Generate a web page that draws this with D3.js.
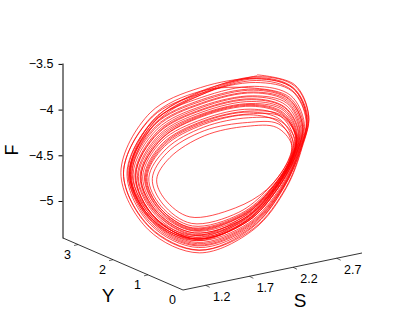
<!DOCTYPE html>
<html lang="en">
<head>
    <meta charset="utf-8">
    <title>S Y F</title>
    <style type="text/css">
        body { margin: 0; background: #fff; }
        svg { display: block; }
        text { font-family: "Liberation Sans", Arial, sans-serif; fill: #000; }
        .axis path, .axis line { stroke: #000; }
        .orbit { fill: none; stroke: #f00; stroke-width: 0.7; }
    </style>
</head>
<body>
<svg class="chart" width="400" height="327"></svg>
<script src="https://d3js.org/d3.v7.min.js"></script>
<script>
    // tick labels
    var sTicks = [1.2, 1.7, 2.2, 2.7],
        yTicks = [0, 1, 2, 3],
        fTicks = [-3.5, -4, -4.5, -5];

    // Y read at each of the 11 points of a turn
    var turnY = [1.6, 1.2, 1.0, 1.0, 1.0, 1.1, 1.2, 1.6, 2.2, 2.4, 2.0];

    // one row per turn of the orbit
    var orbitS = [
        [2.43,2.70,2.78,2.70,2.52,2.19,1.61,1.20,1.14,1.55,1.95],
        [2.41,2.67,2.75,2.67,2.48,2.15,1.59,1.23,1.21,1.58,1.95],
        [2.39,2.63,2.71,2.64,2.43,2.12,1.57,1.26,1.28,1.62,1.96],
        [2.37,2.59,2.665,2.61,2.39,2.08,1.55,1.29,1.34,1.66,1.97],
        [2.36,2.555,2.63,2.58,2.35,2.05,1.53,1.32,1.41,1.69,1.98],
        [2.34,2.52,2.585,2.54,2.30,1.98,1.50,1.375,1.52,1.75,1.99],
        [2.31,2.49,2.58,2.56,2.35,2.07,1.56,1.26,1.24,1.58,1.95],
        [2.42,2.68,2.76,2.69,2.49,2.17,1.60,1.21,1.18,1.56,1.95],
        [2.40,2.65,2.73,2.66,2.46,2.14,1.58,1.24,1.23,1.60,1.96],
        [2.39,2.61,2.69,2.63,2.42,2.11,1.56,1.27,1.30,1.63,1.97],
        [2.37,2.58,2.65,2.60,2.38,2.07,1.55,1.30,1.36,1.66,1.97],
        [2.35,2.54,2.615,2.57,2.34,2.04,1.53,1.33,1.43,1.71,1.98],
        [2.33,2.52,2.62,2.59,2.38,2.09,1.57,1.24,1.21,1.56,1.945],
        [2.43,2.70,2.78,2.705,2.525,2.195,1.61,1.185,1.11,1.525,1.94],
        [2.42,2.68,2.76,2.67,2.47,2.145,1.585,1.235,1.22,1.59,1.955],
        [2.39,2.62,2.70,2.64,2.43,2.12,1.57,1.26,1.27,1.61,1.96],
        [2.38,2.60,2.675,2.62,2.40,2.09,1.56,1.28,1.33,1.65,1.97],
        [2.36,2.565,2.64,2.59,2.36,2.06,1.54,1.31,1.39,1.68,1.98],
        [2.34,2.53,2.60,2.55,2.31,2.02,1.52,1.35,1.47,1.72,1.985],
        [2.32,2.51,2.60,2.57,2.37,2.08,1.565,1.25,1.22,1.57,1.95],
        [2.42,2.68,2.77,2.69,2.495,2.17,1.60,1.20,1.14,1.55,1.945],
        [2.40,2.64,2.72,2.65,2.45,2.13,1.58,1.25,1.25,1.605,1.96],
        [2.38,2.61,2.68,2.62,2.41,2.10,1.56,1.28,1.31,1.64,1.97],
        [2.36,2.57,2.645,2.59,2.37,2.06,1.54,1.31,1.38,1.67,1.975],
        [2.35,2.55,2.64,2.60,2.40,2.105,1.57,1.24,1.21,1.57,1.95],
        [2.42,2.67,2.755,2.68,2.48,2.16,1.59,1.22,1.20,1.58,1.95],
        [2.40,2.63,2.71,2.64,2.43,2.12,1.57,1.26,1.28,1.62,1.96],
        [2.37,2.585,2.66,2.61,2.39,2.08,1.55,1.29,1.34,1.65,1.97],
        [2.36,2.56,2.63,2.58,2.35,2.05,1.54,1.32,1.40,1.69,1.98],
        [2.34,2.54,2.635,2.60,2.40,2.11,1.575,1.235,1.19,1.555,1.945],
        [2.43]
    ];
    var orbitF = [
        [-3.61,-3.705,-4.025,-4.36,-4.76,-5.16,-5.30,-5.03,-4.53,-4.03,-3.785],
        [-3.69,-3.77,-4.07,-4.38,-4.76,-5.12,-5.24,-4.99,-4.56,-4.12,-3.87],
        [-3.77,-3.85,-4.125,-4.41,-4.75,-5.07,-5.17,-4.94,-4.58,-4.21,-3.96],
        [-3.86,-3.93,-4.18,-4.43,-4.75,-5.03,-5.10,-4.89,-4.61,-4.29,-4.04],
        [-3.94,-4.00,-4.23,-4.455,-4.745,-4.98,-5.04,-4.85,-4.63,-4.38,-4.13],
        [-4.03,-4.08,-4.29,-4.48,-4.74,-4.895,-4.915,-4.765,-4.675,-4.515,-4.255],
        [-4.15,-4.13,-4.29,-4.47,-4.745,-5.01,-5.13,-4.94,-4.57,-4.11,-3.80],
        [-3.65,-3.74,-4.05,-4.37,-4.76,-5.14,-5.27,-5.01,-4.54,-4.08,-3.83],
        [-3.73,-3.81,-4.10,-4.39,-4.76,-5.10,-5.21,-4.97,-4.57,-4.15,-3.90],
        [-3.80,-3.87,-4.145,-4.415,-4.75,-5.06,-5.15,-4.92,-4.59,-4.24,-3.99],
        [-3.89,-3.95,-4.20,-4.44,-4.75,-5.015,-5.08,-4.88,-4.615,-4.315,-4.07],
        [-3.97,-4.02,-4.25,-4.46,-4.74,-4.97,-5.02,-4.83,-4.64,-4.41,-4.16],
        [-4.06,-4.06,-4.245,-4.45,-4.75,-5.04,-5.17,-4.965,-4.555,-4.07,-3.77],
        [-3.63,-3.72,-4.03,-4.36,-4.765,-5.17,-5.33,-5.06,-4.52,-3.98,-3.72],
        [-3.65,-3.74,-4.05,-4.39,-4.76,-5.11,-5.225,-4.98,-4.56,-4.14,-3.89],
        [-3.79,-3.86,-4.13,-4.41,-4.75,-5.07,-5.17,-4.945,-4.58,-4.20,-3.94],
        [-3.84,-3.91,-4.17,-4.425,-4.75,-5.04,-5.12,-4.90,-4.60,-4.27,-4.02],
        [-3.92,-3.98,-4.22,-4.45,-4.75,-4.995,-5.06,-4.86,-4.625,-4.35,-4.10],
        [-4.00,-4.05,-4.27,-4.47,-4.74,-4.95,-4.99,-4.81,-4.655,-4.455,-4.20],
        [-4.11,-4.095,-4.27,-4.46,-4.75,-5.03,-5.15,-4.95,-4.56,-4.09,-3.785],
        [-3.64,-3.73,-4.045,-4.37,-4.76,-5.15,-5.30,-5.04,-4.53,-4.02,-3.76],
        [-3.75,-3.83,-4.11,-4.40,-4.755,-5.09,-5.19,-4.96,-4.57,-4.175,-3.925],
        [-3.83,-3.89,-4.16,-4.42,-4.75,-5.05,-5.13,-4.91,-4.60,-4.255,-4.01],
        [-3.91,-3.96,-4.21,-4.44,-4.75,-5.00,-5.07,-4.87,-4.62,-4.34,-4.09],
        [-3.99,-4.01,-4.215,-4.44,-4.75,-5.06,-5.175,-4.965,-4.56,-4.09,-3.80],
        [-3.67,-3.76,-4.06,-4.38,-4.76,-5.13,-5.25,-5.00,-4.55,-4.11,-3.855],
        [-3.76,-3.84,-4.12,-4.41,-4.75,-5.07,-5.17,-4.94,-4.58,-4.22,-3.97],
        [-3.87,-3.935,-4.185,-4.43,-4.75,-5.03,-5.10,-4.895,-4.61,-4.29,-4.03],
        [-3.93,-3.99,-4.225,-4.45,-4.745,-4.99,-5.05,-4.85,-4.63,-4.36,-4.115],
        [-4.02,-4.02,-4.22,-4.44,-4.75,-5.06,-5.19,-4.98,-4.55,-4.07,-3.76],
        [-3.62]
    ];

    var svg = d3.select('.chart'),
        corner = {x: 183, y: 290},
        floorY = 238;

    // the floor is an oblique plane, so S and Y each need a scale per screen direction
    var sX = d3.scaleLinear().domain([0.94, 2.99]).range([0, 179]),
        sY = d3.scaleLinear().domain([0.94, 2.99]).range([0, -37]),
        yX = d3.scaleLinear().domain([0, 3.43]).range([0, -120]),
        yY = d3.scaleLinear().domain([0, 3.43]).range([0, -52]),
        fY = d3.scaleLinear().domain([-5.405, -3.49]).range([floorY, 63]);

    function px(s, y) { return corner.x + sX(s) + yX(y); }
    function py(s, y, f) { return corner.y + sY(s) + yY(y) + fY(f) - floorY; }

    // flatten the turns into one long path
    var points = [];
    orbitS.forEach(function(row, i) {
        row.forEach(function(s, k) {
            points.push([px(s, turnY[k]), py(s, turnY[k], orbitF[i][k])]);
        });
    });

    svg.append('path')
        .datum(points)
        .attr('class', 'orbit')
        .attr('d', d3.line().curve(d3.curveCatmullRom.alpha(0.5)));

    // F axis
    svg.append('g')
        .attr('class', 'axis')
        .attr('transform', 'translate(62.5,0)')
        .call(d3.axisLeft(fY).tickValues(fTicks).tickSize(4).tickSizeOuter(0).tickPadding(5)
            .tickFormat(function(d) { return String(d).replace('-', '\u2212'); }))
        .call(function(g) {
            g.attr('font-family', null).attr('font-size', null);
            g.selectAll('text').style('font-size', '12.5px');
        });

    // Y axis, along the left edge of the floor
    var axisLine = svg.append('g').attr('class', 'axis');
    axisLine.append('line')
        .attr('x1', px(0.94, 0)).attr('y1', py(0.94, 0, -5.405))
        .attr('x2', px(0.94, 3.43)).attr('y2', py(0.94, 3.43, -5.405))
        .attr('stroke-width', 0.8);
    axisLine.selectAll('.ytick').data(yTicks.slice(1)).enter().append('line')
        .attr('x1', function(d) { return px(0.94, d); })
        .attr('y1', function(d) { return py(0.94, d, -5.405); })
        .attr('x2', function(d) { return px(0.94, d) - 4; })
        .attr('y2', function(d) { return py(0.94, d, -5.405) + 1; })
        .attr('stroke-width', 0.6);
    axisLine.selectAll('.ylabel').data(yTicks).enter().append('text')
        .attr('x', function(d) { return px(0.94, d) - 10.5; })
        .attr('y', function(d) { return py(0.94, d, -5.405) + 14; })
        .attr('text-anchor', 'middle')
        .style('font-size', '12.5px')
        .text(function(d) { return d; });

    // S axis, along the right edge of the floor
    axisLine.append('line')
        .attr('x1', px(0.94, 0)).attr('y1', py(0.94, 0, -5.405))
        .attr('x2', px(2.99, 0)).attr('y2', py(2.99, 0, -5.405))
        .attr('stroke-width', 0.8);
    axisLine.selectAll('.stick').data(sTicks).enter().append('line')
        .attr('x1', function(d) { return px(d, 0); })
        .attr('y1', function(d) { return py(d, 0, -5.405); })
        .attr('x2', function(d) { return px(d, 0) + 4; })
        .attr('y2', function(d) { return py(d, 0, -5.405) + 2; })
        .attr('stroke-width', 0.6);
    axisLine.selectAll('.slabel').data(sTicks).enter().append('text')
        .attr('x', function(d) { return px(d, 0) + 16; })
        .attr('y', function(d) { return py(d, 0, -5.405) + 15.5; })
        .attr('text-anchor', 'middle')
        .style('font-size', '12.5px')
        .text(function(d) { return d.toFixed(1); });

    // axis titles
    svg.append('text').attr('x', 300).attr('y', 307).attr('text-anchor', 'middle')
        .style('font-size', '19px').text('S');
    svg.append('text').attr('x', 108).attr('y', 302).attr('text-anchor', 'middle')
        .style('font-size', '19px').text('Y');
    svg.append('text').attr('transform', 'translate(17.5,150) rotate(-90)').attr('text-anchor', 'middle')
        .style('font-size', '18px').text('F');
</script>
</body>
</html>
